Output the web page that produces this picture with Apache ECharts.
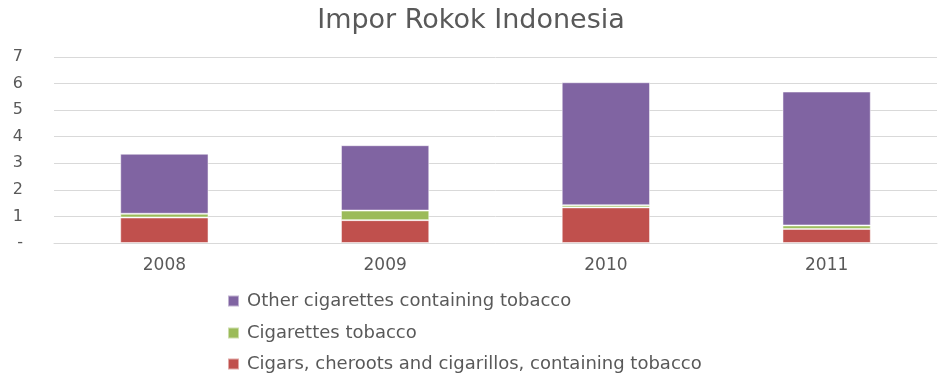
<!DOCTYPE html>
<html>
<head>
<meta charset="utf-8">
<script src="https://cdn.jsdelivr.net/npm/echarts@6/dist/echarts.min.js"></script>
<style>
  html, body { margin: 0; padding: 0; background: #fff; }
  #chart { width: 942px; height: 373px; }
</style>
</head>
<body>
<div id="chart"></div>
<script>
// data
const years = ['2008', '2009', '2010', '2011'];
const cigars = [0.96, 0.86, 1.34, 0.53];
const cigTobacco = [0.14, 0.36, 0.08, 0.13];
const otherCig = [2.26, 2.46, 4.63, 5.04];
const yTicks = ['-', '1', '2', '3', '4', '5', '6', '7'];

const NAME_OTHER = 'Other cigarettes containing tobacco';
const NAME_TOB = 'Cigarettes tobacco';
const NAME_CIGAR = 'Cigars, cheroots and cigarillos, containing tobacco';

const FONT = '"DejaVu Sans", sans-serif';
const TEXT = '#595959';

const chart = echarts.init(document.getElementById('chart'));

function bar(name, data, color) {
  return {
    name, type: 'bar', stack: 'total', data,
    barWidth: '40%',
    itemStyle: { color, borderColor: 'rgba(255,255,255,0.5)', borderWidth: 1 }
  };
}

// one legend per row so the column does not wrap at the canvas edge
function legendRow(name, top) {
  return {
    orient: 'vertical', left: 227, top, padding: 0,
    itemWidth: 11, itemHeight: 11, icon: 'rect',
    data: [name],
    textStyle: { fontFamily: FONT, fontSize: 18, color: TEXT, padding: [0, 0, 0, 3] }
  };
}

chart.setOption({
  animation: false,
  title: {
    text: 'Impor Rokok Indonesia',
    left: 'center', top: 2,
    textStyle: { fontFamily: FONT, fontSize: 27, fontWeight: 'normal', color: TEXT }
  },
  grid: { left: 54, right: 5, top: 57, bottom: 130 },
  legend: [
    legendRow(NAME_OTHER, 292),
    legendRow(NAME_TOB, 324),
    legendRow(NAME_CIGAR, 355)
  ],
  xAxis: {
    type: 'category', data: years,
    axisLine: { lineStyle: { color: '#D9D9D9' } },
    axisTick: { show: false },
    axisLabel: { fontFamily: FONT, fontSize: 17, color: TEXT, margin: 14 }
  },
  yAxis: {
    type: 'value', min: 0, max: 7, interval: 1,
    axisLine: { show: false },
    axisTick: { show: false },
    splitLine: { lineStyle: { color: '#D9D9D9' } },
    axisLabel: {
      fontFamily: FONT, fontSize: 16, color: TEXT, margin: 31,
      formatter: v => yTicks[Math.round(v)]
    }
  },
  series: [
    bar(NAME_CIGAR, cigars, '#C0504D'),
    bar(NAME_TOB, cigTobacco, '#9BBB59'),
    bar(NAME_OTHER, otherCig, '#8064A2')
  ]
});
</script>
</body>
</html>
